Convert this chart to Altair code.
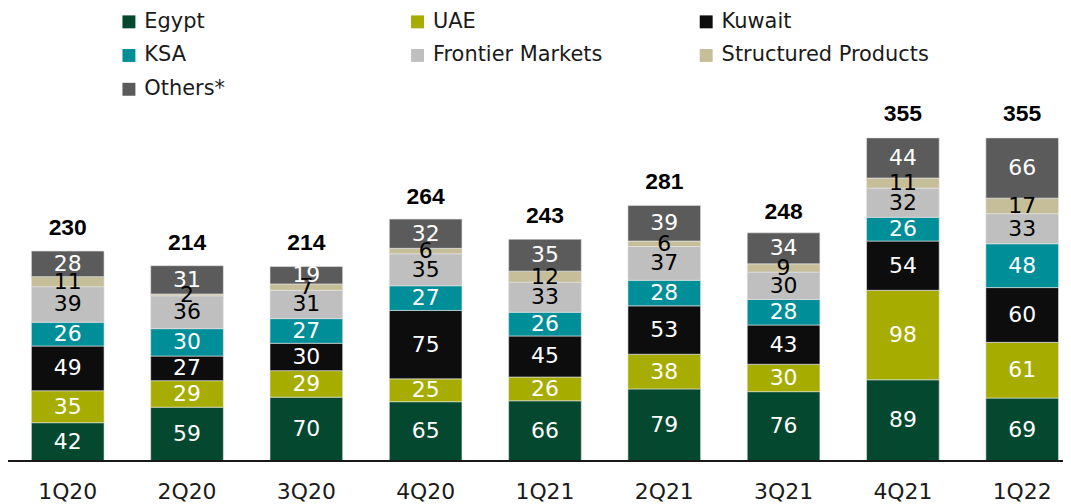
import altair as alt
import pandas as pd

quarters = ["1Q20", "2Q20", "3Q20", "4Q20", "1Q21", "2Q21", "3Q21", "4Q21", "1Q22"]
series = ["Egypt", "UAE", "Kuwait", "KSA", "Frontier Markets", "Structured Products", "Others*"]
colors = ["#03482F", "#A6AD00", "#0D0D0D", "#008E98", "#BFBFBF", "#C5BE98", "#5B5B5B"]
label_colors = ["white", "white", "white", "white", "black", "black", "white"]

egypt = [42, 59, 70, 65, 66, 79, 76, 89, 69]
uae = [35, 29, 29, 25, 26, 38, 30, 98, 61]
kuwait = [49, 27, 30, 75, 45, 53, 43, 54, 60]
ksa = [26, 30, 27, 27, 26, 28, 28, 26, 48]
frontier = [39, 36, 31, 35, 33, 37, 30, 32, 33]
structured = [11, 2, 7, 6, 12, 6, 9, 11, 17]
others = [28, 31, 19, 32, 35, 39, 34, 44, 66]
totals = [230, 214, 214, 264, 243, 281, 248, 355, 355]

values = [egypt, uae, kuwait, ksa, frontier, structured, others]
rows = []
for si, (s, vals) in enumerate(zip(series, values)):
    for q, v in zip(quarters, vals):
        rows.append({"quarter": q, "series": s, "idx": si, "value": v, "lc": label_colors[si]})
df = pd.DataFrame(rows)
tot_df = pd.DataFrame({"quarter": quarters, "total": totals})

W, H = 1060, 454
FONT = "DejaVu Sans"

xscale = alt.Scale(domain=quarters, range=[23.5, 1055.5], paddingInner=0.391, paddingOuter=0)
yscale = alt.Scale(domain=[0, 495])

base = alt.Chart(df)

bars = base.mark_bar(stroke="#e6e6e6", strokeWidth=0.6).encode(
    x=alt.X("quarter:N", scale=xscale, sort=quarters,
            axis=alt.Axis(title=None, domain=False, ticks=False, labelFont=FONT,
                          labelFontSize=22, labelColor="#1a1a1a", labelPadding=21, labelAngle=0)),
    y=alt.Y("value:Q", scale=yscale, stack="zero", axis=None),
    color=alt.Color("series:N", scale=alt.Scale(domain=series, range=colors),
                    legend=alt.Legend(title=None, orient="none", legendX=111, legendY=2,
                                      direction="horizontal",
                                      columns=3, gridAlign="all", columnPadding=55,
                                      rowPadding=12, symbolType="square", symbolSize=169,
                                      symbolStrokeWidth=0, labelFont=FONT, labelFontSize=21,
                                      labelColor="#1a1a1a", labelLimit=400, labelOffset=5)),
    order=alt.Order("idx:Q", sort="ascending"),
)

seg_labels = base.transform_stack(
    stack="value", groupby=["quarter"], as_=["v0", "v1"],
    sort=[alt.SortField("idx", order="ascending")]
).transform_calculate(mid="(datum.v0 + datum.v1) / 2").mark_text(
    font=FONT, fontSize=22, baseline="middle", align="center"
).encode(
    x=alt.X("quarter:N", scale=xscale, sort=quarters),
    y=alt.Y("mid:Q", scale=yscale),
    text="value:Q",
    color=alt.Color("lc:N", scale=None),
)

tot_labels = alt.Chart(tot_df).mark_text(
    font="Liberation Sans", fontWeight="bold", fontSize=23, baseline="alphabetic", dy=-16, color="black"
).encode(
    x=alt.X("quarter:N", scale=xscale, sort=quarters),
    y=alt.Y("total:Q", scale=yscale),
    text="total:Q",
)

baseline = alt.Chart(tot_df).mark_rule(color="#1a1a1a", strokeWidth=1.5).encode(
    x=alt.value(-5), x2=alt.value(W + 5), y=alt.value(H)
)

chart = alt.layer(bars, seg_labels, tot_labels, baseline).properties(
    width=W, height=H,
    padding={"left": 0, "top": 0, "right": 0, "bottom": 42},
    autosize=alt.AutoSizeParams(type="none"),
).configure_view(stroke=None)

chart.save("out.html", embed_options={"renderer": "svg", "actions": False})
